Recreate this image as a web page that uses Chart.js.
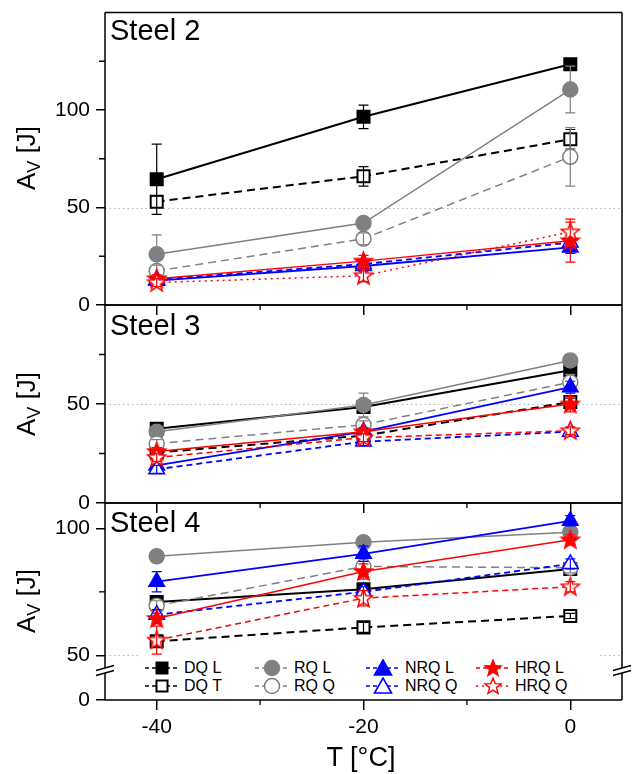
<!DOCTYPE html>
<html>
<head>
<meta charset="utf-8">
<script src="https://cdn.jsdelivr.net/npm/chart.js@4.4.1/dist/chart.umd.min.js"></script>
<style>
  html, body { margin: 0; padding: 0; background: #fff; }
  #wrap { position: relative; width: 635px; height: 774px; overflow: hidden;
          font-family: "Liberation Sans", Arial, sans-serif; color: #000; }
  #wrap canvas { position: absolute; left: 0; top: 0; }
  .steel { position: absolute; left: 110px; font-size: 29px; line-height: 1; white-space: nowrap; }
  .ytitle { position: absolute; left: 28px; font-size: 26px; white-space: nowrap;
            transform: translate(-50%, -50%) rotate(-90deg); }
  .ytitle sub { font-size: 0.7em; vertical-align: -0.25em; }
  .xtitle { position: absolute; left: 361px; top: 744px; font-size: 27px; line-height: 1;
            transform: translateX(-50%); white-space: nowrap; }
  #legend { position: absolute; left: 140px; top: 655px; width: 460px; height: 42px; background: #fff; }
  #legend svg, #legend span { position: absolute; }
  #legend span { font-size: 16px; line-height: 16px; white-space: nowrap; }
</style>
</head>
<body>
<div id="wrap">
  <canvas id="steel2" width="635" height="774"></canvas>
  <canvas id="steel3" width="635" height="774"></canvas>
  <canvas id="steel4" width="635" height="774"></canvas>
  <canvas id="stub" width="635" height="774"></canvas>

  <div class="steel" style="top:16px">Steel 2</div>
  <div class="steel" style="top:311px">Steel 3</div>
  <div class="steel" style="top:508px">Steel 4</div>
  <div class="ytitle" style="top:158px">A<sub>V</sub> [J]</div>
  <div class="ytitle" style="top:404px">A<sub>V</sub> [J]</div>
  <div class="ytitle" style="top:601px">A<sub>V</sub> [J]</div>
  <div class="xtitle">T [°C]</div>
  <div id="legend"></div>
</div>

<script>
// ---- data ----
const temps = [-40, -20, 0]
const seriesNames = ["DQ L", "DQ T", "RQ L", "RQ Q", "NRQ L", "NRQ Q", "HRQ L", "HRQ Q"]

// A_V [J], one row per series (same order as seriesNames), columns = temps
const steel2Av = [
  [64.5, 96.5, 123.5],
  [53, 66, 85],
  [26, 42, 110.5],
  [17.5, 34, 76],
  [12.5, 20, 29.5],
  [13, 21, 32],
  [13.5, 22.5, 33],
  [11.5, 15, 37.5],
]
const steel2Err = [
  [18, 6, 2],
  [3, 5, 5],
  [10, 3, 12],
  [3, 3, 15],
  [2, 3, 3],
  [1, 2, 2],
  [2, 3, 11],
  [2, 3, 5],
]

const steel3Av = [
  [37.5, 48.5, 67],
  [25.5, 34, 51],
  [36, 49.5, 72],
  [30, 39.5, 61],
  [19, 36, 58.5],
  [17, 31, 36],
  [26, 36, 50],
  [23, 33, 36.5],
]
const steel3Err = [
  [3, 2, 3],
  [2, 2, 2],
  [3, 6, 2],
  [2, 2, 4],
  [2, 2, 3],
  [2, 2, 2],
  [2, 2, 4],
  [2, 2, 2],
]

const steel4Av = [
  [71, 76, 84],
  [55.5, 61, 65.5],
  [89, 94.5, 98.5],
  [69.5, 85, 84.5],
  [79, 90, 103],
  [66, 75, 86],
  [64.5, 83, 95.5],
  [56, 72.5, 77],
]
const steel4Err = [
  [2, 2, 2],
  [2, 2, 1],
  [1, 2, 3],
  [2, 3, 2],
  [4, 3, 2],
  [2, 2, 2],
  [2, 3, 2],
  [5.5, 3, 2],
]

// ticks
const xMajor = [-40, -20, 0]
const xMinor = [-30, -10]
const steel2Major = [0, 50, 100]
const steel2Minor = [25, 75, 125]
const steel3Major = [0, 50]
const steel3Minor = [25, 75]
const steel4Major = [50, 100]
const steel4Minor = [75]
const stubMajor = [0]

// ---- styles ----
const colors = ["#000000", "#000000", "#808080", "#808080", "#0000ff", "#0000ff", "#ff0000", "#ff0000"]
const shapes = ["rect", "rect", "circle", "circle", "triangle", "triangle", "star", "star"]
const openMarker = [false, true, false, true, false, true, false, true]
const lineWidths = [2, 2, 1.5, 1.5, 1.8, 1.8, 1.5, 1.5]
const dashes = [[], [8, 5], [], [8, 5], [], [6, 4], [], [6, 4]]

Chart.defaults.font.family = '"Liberation Sans", Arial, sans-serif'
Chart.defaults.color = "#000"

function starPath(ctx, cx, cy, R, r) {
  ctx.beginPath()
  for (let k = 0; k < 10; k++) {
    const rad = k % 2 === 0 ? R : r
    const ang = -Math.PI / 2 + (k * Math.PI) / 5
    const px = cx + rad * Math.cos(ang)
    const py = cy + rad * Math.sin(ang)
    if (k === 0) ctx.moveTo(px, py)
    else ctx.lineTo(px, py)
  }
  ctx.closePath()
}

function makeStar(open) {
  const R = 9.5
  const c = document.createElement("canvas")
  c.width = c.height = 23
  const ctx = c.getContext("2d")
  starPath(ctx, 11.5, 12, R, R * 0.42)
  ctx.fillStyle = open ? "#fff" : "#ff0000"
  ctx.fill()
  ctx.strokeStyle = "#ff0000"
  ctx.lineWidth = 1.5
  ctx.stroke()
  return c
}
const starFilled = makeStar(false)
const starOpen = makeStar(true)

function pointStyleFor(i) {
  if (shapes[i] === "star") return openMarker[i] ? starOpen : starFilled
  return shapes[i]
}
function pointRadiusFor(i) {
  if (shapes[i] === "rect") return 8.5
  if (shapes[i] === "circle") return 7.5
  if (shapes[i] === "triangle") return 9
  return 11
}

// dotted 50-line, error bars, frame, minor ticks, axis breaks
const panelDecor = {
  id: "panelDecor",
  beforeDatasetsDraw(chart, args, o) {
    const { ctx, chartArea: a } = chart
    const y = chart.scales.y
    ctx.save()
    ctx.strokeStyle = "#b4b4b4"
    ctx.lineWidth = 1
    ctx.setLineDash([1.5, 3])
    ;(o.dotted || []).forEach((v) => {
      const py = Math.round(y.getPixelForValue(v)) + 0.5
      ctx.beginPath()
      ctx.moveTo(a.left, py)
      ctx.lineTo(a.right, py)
      ctx.stroke()
    })
    ctx.restore()
  },
  afterDatasetDraw(chart, args) {
    const { ctx } = chart
    const y = chart.scales.y
    const ds = chart.data.datasets[args.index]
    ctx.save()
    ctx.strokeStyle = ds.borderColor
    ctx.lineWidth = 1.2
    ctx.setLineDash([])
    args.meta.data.forEach((pt, j) => {
      const e = ds.errors[j]
      if (!e) return
      const v = ds.data[j].y
      const top = y.getPixelForValue(v + e)
      const bot = y.getPixelForValue(v - e)
      ctx.beginPath()
      ctx.moveTo(pt.x, top)
      ctx.lineTo(pt.x, bot)
      ctx.moveTo(pt.x - 5, top)
      ctx.lineTo(pt.x + 5, top)
      ctx.moveTo(pt.x - 5, bot)
      ctx.lineTo(pt.x + 5, bot)
      ctx.stroke()
    })
    ctx.restore()
  },
  afterDraw(chart, args, o) {
    const { ctx, chartArea: a } = chart
    const x = chart.scales.x
    const y = chart.scales.y
    ctx.save()
    ctx.strokeStyle = "#000"
    ctx.lineWidth = 1.5
    ctx.setLineDash([])
    const s = o.sides || {}
    ctx.beginPath()
    if (s.top) { ctx.moveTo(a.left, a.top); ctx.lineTo(a.right, a.top) }
    if (s.bottom) { ctx.moveTo(a.left, a.bottom); ctx.lineTo(a.right, a.bottom) }
    if (s.left) { ctx.moveTo(a.left, a.top); ctx.lineTo(a.left, a.bottom) }
    if (s.right) { ctx.moveTo(a.right, a.top); ctx.lineTo(a.right, a.bottom) }
    ctx.stroke()

    // minor ticks
    ctx.lineWidth = 1.3
    ctx.beginPath()
    ;(o.yMinor || []).forEach((v) => {
      const py = y.getPixelForValue(v)
      ctx.moveTo(a.left - 6, py)
      ctx.lineTo(a.left, py)
    })
    ;(o.xMinor || []).forEach((v) => {
      const px = x.getPixelForValue(v)
      ctx.moveTo(px, a.bottom)
      ctx.lineTo(px, a.bottom + 5)
    })
    ctx.stroke()

    // axis break marks
    if (o.breakY) {
      ;[a.left, a.right].forEach((xe) => {
        ctx.fillStyle = "#fff"
        ctx.beginPath()
        ctx.moveTo(xe - 9, o.breakY - 1 + 2.5)
        ctx.lineTo(xe + 9, o.breakY - 1 - 2.5)
        ctx.lineTo(xe + 9, o.breakY + 3 - 2.5)
        ctx.lineTo(xe - 9, o.breakY + 3 + 2.5)
        ctx.closePath()
        ctx.fill()
        ctx.lineWidth = 1.3
        ctx.beginPath()
        ctx.moveTo(xe - 9, o.breakY - 2 + 2.5)
        ctx.lineTo(xe + 9, o.breakY - 2 - 2.5)
        ctx.moveTo(xe - 9, o.breakY + 3 + 2.5)
        ctx.lineTo(xe + 9, o.breakY + 3 - 2.5)
        ctx.stroke()
      })
    }
    ctx.restore()
  },
}

function buildDatasets(values, errors, hrqQDash) {
  if (!values) return []
  return seriesNames.map((name, i) => ({
    label: name,
    data: temps.map((t, j) => ({ x: t, y: values[i][j] })),
    errors: errors[i],
    borderColor: colors[i],
    borderWidth: lineWidths[i],
    borderDash: i === 7 && hrqQDash ? hrqQDash : dashes[i],
    pointStyle: pointStyleFor(i),
    pointRadius: pointRadiusFor(i),
    pointBackgroundColor: openMarker[i] ? "#ffffff" : colors[i],
    pointBorderColor: colors[i],
    pointBorderWidth: shapes[i] === "rect" ? 2 : 1.5,
    fill: false,
    tension: 0,
    clip: false,
    order: seriesNames.length - i,
  }))
}

function makePanel(id, p) {
  const xh = p.xAxis === "labels" ? 774 - p.bottom : p.xAxis === "ticks" ? 10 : 0
  return new Chart(document.getElementById(id), {
    type: "line",
    data: { datasets: buildDatasets(p.values, p.errors, p.hrqQDash) },
    plugins: [panelDecor],
    options: {
      responsive: false,
      animation: false,
      devicePixelRatio: 1,
      layout: { padding: { left: 0, right: 13, top: p.top, bottom: 774 - p.bottom - xh } },
      plugins: {
        legend: { display: false },
        tooltip: { enabled: false },
        panelDecor: { dotted: p.dotted, yMinor: p.yMinor, xMinor: p.xAxis === "none" ? [] : xMinor, sides: p.sides, breakY: p.breakY },
      },
      scales: {
        x: {
          type: "linear",
          min: -45,
          max: 5,
          display: p.xAxis !== "none",
          afterBuildTicks: (s) => { s.ticks = xMajor.map((v) => ({ value: v })) },
          afterFit: (s) => { s.height = xh; s.paddingLeft = 0; s.paddingRight = 0 },
          grid: { drawOnChartArea: false, drawTicks: true, tickLength: 10, tickColor: "#000", tickWidth: 1.5, lineWidth: 1.5 },
          border: { display: false },
          ticks: { display: p.xAxis === "labels", padding: 5, color: "#000", font: { size: 21 }, maxRotation: 0 },
        },
        y: {
          type: "linear",
          min: p.yMin,
          max: p.yMax,
          afterBuildTicks: (s) => { s.ticks = p.yMajor.map((v) => ({ value: v })) },
          afterFit: (s) => { s.width = 105; s.paddingTop = 0; s.paddingBottom = 0 },
          grid: { drawOnChartArea: false, drawTicks: true, tickLength: 9, tickColor: "#000", tickWidth: 1.5, lineWidth: 1.5 },
          border: { display: false },
          ticks: { padding: 6, color: "#000", font: { size: 21 } },
        },
      },
    },
  })
}

makePanel("steel2", {
  top: 8, bottom: 305, yMin: 0, yMax: 150, yMajor: steel2Major, yMinor: steel2Minor,
  values: steel2Av, errors: steel2Err, hrqQDash: [2, 4], dotted: [50], xAxis: "ticks",
  sides: { top: true, right: true, bottom: true, left: true },
})
makePanel("steel3", {
  top: 305, bottom: 503, yMin: 0, yMax: 100, yMajor: steel3Major, yMinor: steel3Minor,
  values: steel3Av, errors: steel3Err, dotted: [50], xAxis: "ticks",
  sides: { top: true, right: true, bottom: true, left: true },
})
makePanel("steel4", {
  top: 503, bottom: 668, yMin: 45, yMax: 110, yMajor: steel4Major, yMinor: steel4Minor,
  values: steel4Av, errors: steel4Err, dotted: [50], xAxis: "none",
  sides: { top: true, right: true, left: true },
})
makePanel("stub", {
  top: 673, bottom: 700, yMin: 0, yMax: 10, yMajor: stubMajor, yMinor: [],
  values: null, errors: null, dotted: [], xAxis: "labels",
  sides: { right: true, bottom: true, left: true }, breakY: 670,
})

// ---- legend (HTML) ----
const legendCols = [162, 272, 383, 493]
const legendRows = [668, 686]
const legendDash = ["4,3", "4,3", "4,3", "4,3", "4,3", "4,3", "4,3", "2,4"]

function starPoints(cx, cy, R, r) {
  const pts = []
  for (let k = 0; k < 10; k++) {
    const rad = k % 2 === 0 ? R : r
    const ang = -Math.PI / 2 + (k * Math.PI) / 5
    pts.push((cx + rad * Math.cos(ang)).toFixed(2) + "," + (cy + rad * Math.sin(ang)).toFixed(2))
  }
  return pts.join(" ")
}

function legendIcon(i) {
  const c = colors[i]
  const fill = openMarker[i] ? "#fff" : c
  let shape = ""
  if (shapes[i] === "rect") shape = `<rect x="12.5" y="3.5" width="11" height="11" fill="${fill}" stroke="${c}" stroke-width="2"/>`
  if (shapes[i] === "circle") shape = `<circle cx="18" cy="9" r="7.5" fill="${fill}" stroke="${c}" stroke-width="1.5"/>`
  if (shapes[i] === "triangle") shape = `<polygon points="18,1 26.5,16 9.5,16" fill="${fill}" stroke="${c}" stroke-width="1.6"/>`
  if (shapes[i] === "star") shape = `<polygon points="${starPoints(18, 9.5, 8.5, 3.6)}" fill="${fill}" stroke="${c}" stroke-width="1.4"/>`
  return `<svg width="36" height="18" viewBox="0 0 36 18"><line x1="1" y1="9" x2="35" y2="9" stroke="${c}" stroke-width="1.5" stroke-dasharray="${legendDash[i]}"/>${shape}</svg>`
}

const legendBox = document.getElementById("legend")
const legendLeft = 140
const legendTop = 655
seriesNames.forEach((name, i) => {
  const col = Math.floor(i / 2)
  const row = i % 2
  const cx = legendCols[col]
  const cy = legendRows[row]
  legendBox.insertAdjacentHTML(
    "beforeend",
    `<div style="position:absolute;left:${cx - 18 - legendLeft}px;top:${cy - 9 - legendTop}px">${legendIcon(i)}</div>` +
      `<span style="left:${cx + 22 - legendLeft}px;top:${cy - 8 - legendTop}px">${name}</span>`
  )
})
</script>
</body>
</html>
